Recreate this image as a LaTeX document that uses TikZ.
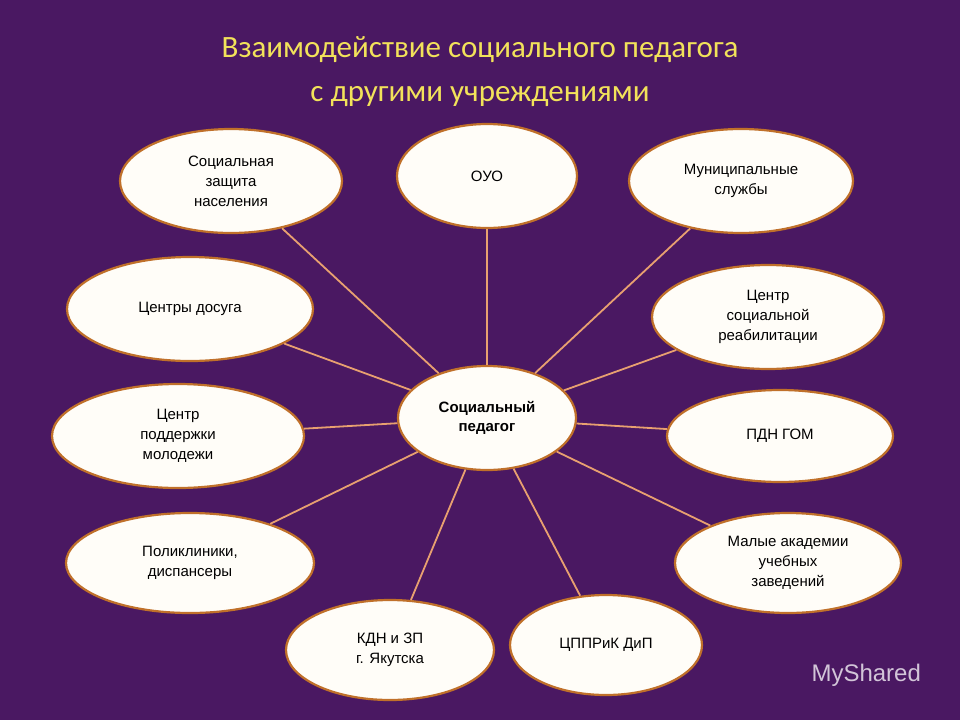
\documentclass[tikz,border=0pt]{standalone}
\usepackage{fontspec}
\setmainfont{Liberation Sans}
\newfontfamily\titlefont{Carlito}
\usetikzlibrary{shapes.geometric}
\definecolor{bg}{HTML}{4A1862}
\definecolor{edge}{HTML}{C0702A}
\definecolor{conn}{HTML}{E8A070}
\definecolor{cream}{HTML}{FFFDF8}
\definecolor{ttl}{HTML}{F2E25A}
\tikzset{
  bub/.style={ellipse,draw=edge,line width=2.2pt,fill=cream,inner sep=0pt,
    align=center,font=\fontsize{15}{20}\selectfont},
  link/.style={conn,line width=1.8pt}
}
\begin{document}
\begin{tikzpicture}[x=1pt,y=-1pt]
\fill[bg] (0,0) rectangle (960,720);
\useasboundingbox (0,0) rectangle (960,720);
\node[ttl,font=\titlefont\fontsize{31}{44}\selectfont,align=center] (t) at (480,72)
  {Взаимодействие социального педагога\\с другими учреждениями};
\node[bub,minimum width=178pt,minimum height=104pt,font=\bfseries\fontsize{15}{19}\selectfont] (c) at (487,418) {Социальный\\педагог};
\node[bub,minimum width=222pt,minimum height=104pt] (a1) at (231,181) {Социальная\\защита\\населения};
\node[bub,minimum width=180pt,minimum height=104pt] (a2) at (487,176) {ОУО};
\node[bub,minimum width=224pt,minimum height=104pt] (a3) at (741,181) {Муниципальные\\службы};
\node[bub,minimum width=246pt,minimum height=104pt] (a4) at (190,309) {Центры досуга};
\node[bub,minimum width=232pt,minimum height=104pt] (a5) at (768,317) {Центр\\социальной\\реабилитации};
\node[bub,minimum width=252pt,minimum height=104pt] (a6) at (178,436) {Центр\\поддержки\\молодежи};
\node[bub,minimum width=226pt,minimum height=92pt] (a7) at (780,436) {ПДН ГОМ};
\node[bub,minimum width=248pt,minimum height=100pt] (a8) at (190,563) {Поликлиники,\\диспансеры};
\node[bub,minimum width=226pt,minimum height=100pt] (a9) at (788,563) {Малые академии\\учебных\\заведений};
\node[bub,minimum width=208pt,minimum height=100pt] (a10) at (390,650) {КДН и ЗП\\г. Якутска};
\node[bub,minimum width=192pt,minimum height=100pt] (a11) at (606,645) {ЦППРиК ДиП};
\foreach \n in {a1,a2,a3,a4,a5,a6,a7,a8,a9,a10,a11} \draw[link] (c) -- (\n);
\node[white!75!bg,font=\fontsize{24}{26}\selectfont,anchor=west] (w) at (808,675) {MyShared};
\end{tikzpicture}
\end{document}
